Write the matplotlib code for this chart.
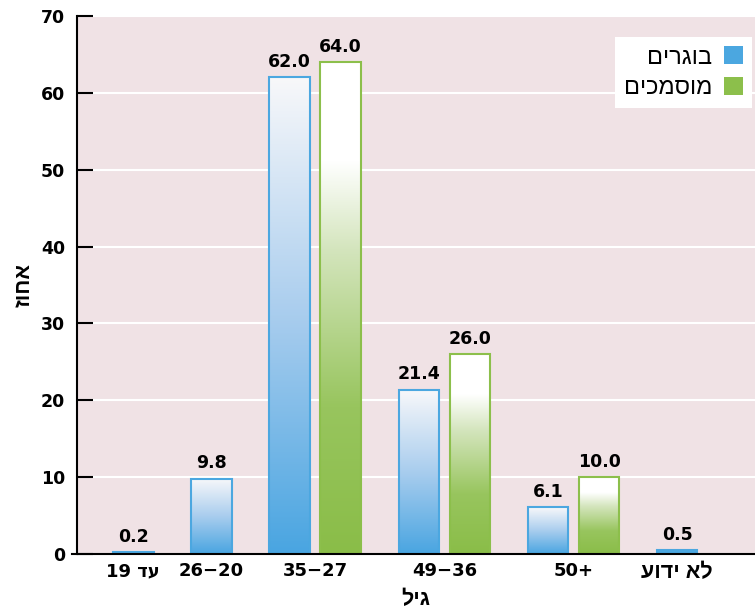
"""Age distribution chart (Hebrew labels), bars with vertical gradient fill."""
import re
import matplotlib
matplotlib.use("Agg")
import matplotlib.pyplot as plt
import numpy as np
from matplotlib.colors import LinearSegmentedColormap
from matplotlib.patches import Patch

# data
categories = ["עד 19", "26−20", "35−27", "49−36", "50+", "לא ידוע"]
adults = [0.2, 9.8, 62.0, 21.4, 6.1, 0.5]          # בוגרים
graduates = [None, None, 64.0, 26.0, 10.0, None]   # מוסמכים
series_names = ["בוגרים", "מוסמכים"]
y_ticks = [0, 10, 20, 30, 40, 50, 60, 70]

BLUE = "#4ba7e0"
GREEN = "#8cbf4b"
BG = "#f0e2e5"
HEB = r"[\u0590-\u05FF]"


def vis(s):
    # match the glyph order of the reference once the text engine reorders RTL runs
    if not re.search(HEB, s):
        return s
    toks = re.findall(HEB + r"+(?: " + HEB + r"+)*|\s+|[^\s\u0590-\u05FF]+", s)
    return "".join(t[::-1] if re.match(HEB, t) else t for t in toks[::-1])


plt.rcParams["font.family"] = ["Liberation Sans", "DejaVu Sans"]
NUM = dict(family="DejaVu Sans", fontweight="bold")

fig = plt.figure(figsize=(7.55, 6.11), dpi=100)
ax = fig.add_axes([77 / 755, 57 / 611, 678 / 755, 538 / 611])
ax.set_facecolor(BG)

# bar layout: width 1, small gap inside a pair, bigger gap between groups
w, inner, gap = 1.0, 0.26, 0.93
blue_x, green_x, centers = [], [], []
x = 0.89
for a, g in zip(adults, graduates):
    xs = [x]
    blue_x.append(x)
    if g is not None:
        x += w + inner
        green_x.append(x)
        xs.append(x)
    centers.append((xs[0] + xs[-1] + w) / 2)
    x += w + gap

g_vals = [g for g in graduates if g is not None]

cmap_b = LinearSegmentedColormap.from_list("b", [(0, "#49a5e1"), (0.5, "#a9cdee"), (1, "#f8f8fa")])
cmap_g = LinearSegmentedColormap.from_list("g", [(0, "#8abd48"), (0.3, "#98c55e"),
                                                 (0.62, "#d4e5bd"), (0.8, "#ffffff"), (1, "#ffffff")])

bars_b = ax.bar(blue_x, adults, width=w, align="edge", facecolor="none",
                edgecolor=BLUE, linewidth=1.5, zorder=3)
bars_g = ax.bar(green_x, g_vals, width=w, align="edge", facecolor="none",
                edgecolor=GREEN, linewidth=1.5, zorder=3)

grad = np.linspace(0, 1, 256).reshape(-1, 1)
for bars, cm in ((bars_b, cmap_b), (bars_g, cmap_g)):
    for r in bars:
        x0, h = r.get_x(), r.get_height()
        im = ax.imshow(grad, extent=[x0, x0 + w, 0, h], origin="lower", cmap=cm,
                       aspect="auto", zorder=2, interpolation="bilinear")
        im.set_clip_path(r)
        if h < 1:
            r.set_facecolor(BLUE)

for bars in (bars_b, bars_g):
    ax.bar_label(bars, fmt="%.1f", padding=4.5, fontsize=12.5, **NUM)

ax.set_xlim(0, 678 / 40.5)
ax.set_ylim(0, 70)
ax.set_yticks(y_ticks)
ax.set_xticks(centers)
ax.set_xticklabels([vis(c) for c in categories])
for c, lbl in zip(categories, ax.get_xticklabels()):
    if re.search(r"\d", c):
        lbl.set_fontfamily("DejaVu Sans")
        lbl.set_fontsize(13)
    else:
        lbl.set_fontfamily("Liberation Sans")
        lbl.set_fontsize(15.5)
    lbl.set_fontweight("bold")
ax.tick_params(axis="x", length=0, pad=6)
ax.tick_params(axis="y", direction="in", length=11.5, width=1.5, pad=8.5,
               labelsize=12.5)
for lbl in ax.get_yticklabels():
    lbl.set_fontfamily("DejaVu Sans")
    lbl.set_fontweight("bold")

ax.grid(axis="y", color="white", linewidth=1.5, zorder=1)
ax.set_axisbelow(True)
for s in ("top", "right", "bottom"):
    ax.spines[s].set_visible(False)
ax.spines["left"].set_linewidth(1.5)
ax.plot([-0.008, 1], [0, 0], transform=ax.transAxes, color="black",
        linewidth=1.5, clip_on=False, zorder=5)

ax.set_ylabel(vis("אחוז"), fontsize=15.5, fontweight="bold", labelpad=5)
ax.set_xlabel(vis("גיל"), fontsize=15.5, fontweight="bold", labelpad=4)

handles = [Patch(facecolor=BLUE, edgecolor="none"), Patch(facecolor=GREEN, edgecolor="none")]
leg = ax.legend(handles, [vis(n) for n in series_names], loc="upper right",
                bbox_to_anchor=(0.996, 0.961), borderaxespad=0, markerfirst=False,
                fontsize=17, frameon=True, fancybox=False, handlelength=0.78,
                handleheight=0.78, handletextpad=0.5, labelspacing=0.35,
                borderpad=0.4)
leg.get_frame().set_facecolor("white")
leg.get_frame().set_edgecolor("none")
leg.get_frame().set_alpha(1)

fig.savefig("out.png", dpi=100)
